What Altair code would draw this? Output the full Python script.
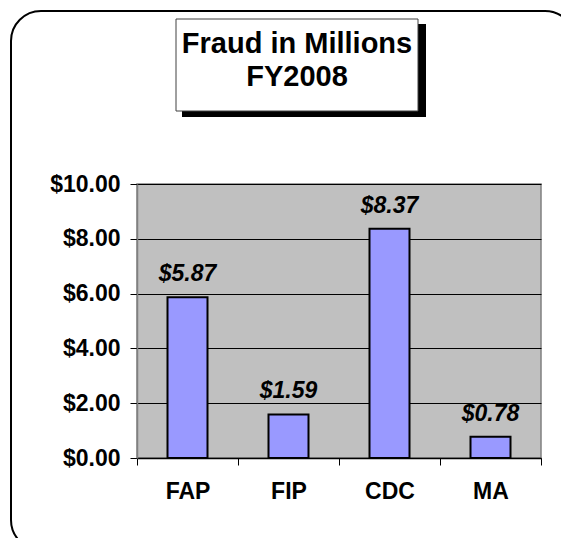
import altair as alt
import pandas as pd

categories = ["FAP", "FIP", "CDC", "MA"]
values = [5.87, 1.59, 8.37, 0.78]
y_ticks = [0, 2, 4, 6, 8, 10]
title_lines = ["Fraud in Millions", "FY2008"]

FONT = "Liberation Sans, Arial, sans-serif"

df = pd.DataFrame({"program": categories, "fraud": values})
one = pd.DataFrame({"k": [0]})

x_enc = alt.X(
    "program:N",
    sort=categories,
    scale=alt.Scale(paddingInner=0, paddingOuter=0),
    axis=alt.Axis(
        title=None, labelAngle=0, tickBand="extent", grid=False,
        domainColor="black", domainWidth=1.5, tickColor="black", tickSize=7,
        labelFont=FONT, labelFontSize=23, labelFontWeight="bold",
        labelColor="black", labelPadding=15,
    ),
)
y_enc = alt.Y(
    "fraud:Q",
    scale=alt.Scale(domain=[0, 10]),
    axis=alt.Axis(
        title=None, values=y_ticks, format="$.2f", grid=True,
        gridColor="black", gridWidth=1, domainColor="#808080", domainWidth=1.5,
        tickColor="black", tickSize=7,
        labelFont=FONT, labelFontSize=23, labelFontWeight="bold",
        labelColor="black", labelPadding=10,
    ),
)

border = alt.Chart(one).mark_rect(
    fillOpacity=0, stroke="black", strokeWidth=2, cornerRadius=30
).encode(
    x=alt.value(-126), x2=alt.value(438), y=alt.value(-173), y2=alt.value(366)
)

shadow = alt.Chart(one).mark_rect(fill="black").encode(
    x=alt.value(45), x2=alt.value(289), y=alt.value(-160), y2=alt.value(-67)
)
box = alt.Chart(one).mark_rect(fill="white", stroke="#404040", strokeWidth=1).encode(
    x=alt.value(39), x2=alt.value(281), y=alt.value(-165), y2=alt.value(-73)
)
t1 = alt.Chart(one).mark_text(
    font=FONT, fontSize=29, fontWeight="bold", color="black",
    align="center", baseline="alphabetic"
).encode(x=alt.value(160), y=alt.value(-131), text=alt.value(title_lines[0]))
t2 = alt.Chart(one).mark_text(
    font=FONT, fontSize=29, fontWeight="bold", color="black",
    align="center", baseline="alphabetic"
).encode(x=alt.value(160), y=alt.value(-98), text=alt.value(title_lines[1]))

bars = alt.Chart(df).mark_bar(
    size=40, color="#9999FF", stroke="black", strokeWidth=2
).encode(x=x_enc, y=y_enc)

labels = alt.Chart(df).mark_text(
    font=FONT, fontSize=23, fontWeight="bold", fontStyle="italic",
    color="black", align="center", baseline="alphabetic", dy=-16
).encode(
    x=alt.X("program:N", sort=categories),
    y=alt.Y("fraud:Q"),
    text=alt.Text("fraud:Q", format="$.2f"),
)

chart = alt.layer(border, bars, labels, shadow, box, t1, t2).properties(
    width=404,
    height=274,
    autosize=alt.AutoSizeParams(type="none"),
    padding={"left": 129, "top": 176, "right": 20, "bottom": 80},
    background="white",
).configure_view(fill="#C0C0C0", stroke="#808080", strokeWidth=1.5)

chart.save("out.html", embed_options={"renderer": "svg", "actions": False})
